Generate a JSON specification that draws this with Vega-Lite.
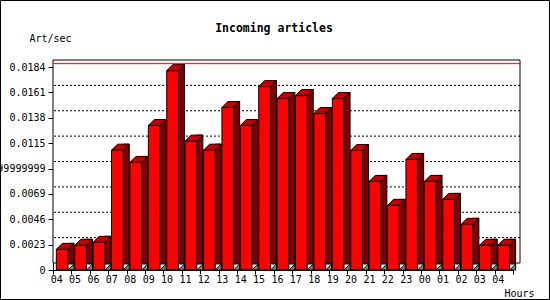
{
  "$schema": "https://vega.github.io/schema/vega-lite/v6.json",
  "autosize": {"type": "none"},
  "padding": {"left": 53, "top": 67, "right": 37, "bottom": 30},
  "width": 460,
  "height": 203,
  "background": "white",
  "config": {
    "view": {"stroke": null},
    "axis": {"labelOverlap": false, "labelBound": false, "labelFlush": false},
    "axisY": {"labelOverlap": false},
    "axisQuantitative": {"labelOverlap": false}
  },
  "title": {
    "text": "Incoming articles",
    "font": "DejaVu Sans Mono",
    "fontSize": 11.5,
    "fontWeight": "bold",
    "color": "black",
    "anchor": "middle",
    "frame": "group",
    "dx": -9,
    "offset": -34
  },
  "datasets": {
    "rates": [
      {"slot": "04a", "rate": 0.00187},
      {"slot": "05", "rate": 0.00224},
      {"slot": "06", "rate": 0.00251},
      {"slot": "07", "rate": 0.01086},
      {"slot": "08", "rate": 0.00975},
      {"slot": "09", "rate": 0.01310},
      {"slot": "10", "rate": 0.01807},
      {"slot": "11", "rate": 0.01168},
      {"slot": "12", "rate": 0.01086},
      {"slot": "13", "rate": 0.01473},
      {"slot": "14", "rate": 0.01310},
      {"slot": "15", "rate": 0.01663},
      {"slot": "16", "rate": 0.01554},
      {"slot": "17", "rate": 0.01581},
      {"slot": "18", "rate": 0.01418},
      {"slot": "19", "rate": 0.01554},
      {"slot": "20", "rate": 0.01083},
      {"slot": "21", "rate": 0.00803},
      {"slot": "22", "rate": 0.00586},
      {"slot": "23", "rate": 0.01002},
      {"slot": "00", "rate": 0.00803},
      {"slot": "01", "rate": 0.00640},
      {"slot": "02", "rate": 0.00414},
      {"slot": "03", "rate": 0.00224},
      {"slot": "04b", "rate": 0.00224}
    ],
    "grid": [
      {"rate": 0.0023}, {"rate": 0.0046}, {"rate": 0.0069}, {"rate": 0.0092},
      {"rate": 0.0115}, {"rate": 0.0138}, {"rate": 0.0161}
    ],
    "one": [{"rate": 0, "hi": 0.0184}]
  },
  "encoding": {
    "y": {
      "field": "rate", "type": "quantitative",
      "scale": {"domain": [0, 0.0184], "nice": false},
      "axis": {
        "values": [0, 0.0023, 0.0046, 0.0069, 0.0092, 0.0115, 0.0138, 0.0161, 0.0184],
        "labelExpr": "datum.value == 0.0092 ? '0.00919999999999999' : '' + datum.value",
        "labelFont": "DejaVu Sans Mono",
        "labelFontSize": 10,
        "labelColor": "black",
        "labelPadding": 3,
        "labelOverlap": false,
        "labelSeparation": 0,
        "tickSize": 5,
        "tickColor": "black",
        "domainColor": "black",
        "grid": false,
        "title": "Art/sec",
        "titleFont": "DejaVu Sans Mono",
        "titleFontSize": 10,
        "titleFontWeight": "normal",
        "titleColor": "black",
        "titleAngle": 0,
        "titleAlign": "left",
        "titleBaseline": "middle",
        "titleAnchor": null,
        "titleX": -24,
        "titleY": -29
      }
    }
  },
  "layer": [
    {
      "data": {"name": "one"},
      "mark": {"type": "rect", "fill": null, "fillOpacity": 0, "stroke": "black", "strokeWidth": 1,
               "xOffset": -52.5, "x2Offset": 36.5, "yOffset": 29.5, "y2Offset": -66.5},
      "encoding": {
        "x": {"value": 0},
        "x2": {"value": "width"},
        "y2": {"field": "hi"}
      }
    },
    {
      "data": {"name": "one"},
      "mark": {"type": "rect", "fill": "white", "stroke": "black", "strokeWidth": 1,
               "xOffset": 7, "x2Offset": 7, "yOffset": -7, "y2Offset": -7},
      "encoding": {
        "y2": {"field": "hi"}
      }
    },
    {
      "data": {"name": "grid"},
      "mark": {"type": "rule", "color": "black", "strokeWidth": 1, "strokeDash": [2, 2], "xOffset": 7, "x2Offset": 7, "yOffset": -7},
      "encoding": {}
    },
    {
      "data": {"name": "rates"},
      "transform": [{"joinaggregate": [{"op": "max", "field": "rate", "as": "top"}]}, {"filter": "datum.rate == datum.top"}],
      "mark": {"type": "rule", "color": "red", "strokeWidth": 1, "xOffset": 7, "x2Offset": 7, "yOffset": -7},
      "encoding": {}
    },
    {
      "data": {"name": "rates"},
      "mark": {"type": "bar", "fill": "#800000", "stroke": "black", "strokeWidth": 1, "width": 6, "xOffset": 8.85, "yOffset": -6, "y2Offset": 0},
      "encoding": {
        "x": {"field": "slot", "type": "nominal", "sort": null}
      }
    },
    {
      "data": {"name": "rates"},
      "mark": {"type": "point", "shape": "M5.85,0L11.85,-6L11.85,0Z", "size": 4, "filled": true, "fill": "#808080", "stroke": "black", "strokeWidth": 1, "opacity": 1, "yOffset": 0},
      "encoding": {
        "x": {"field": "slot", "type": "nominal", "sort": null},
        "y": {"datum": 0, "type": "quantitative"}
      }
    },
    {
      "data": {"name": "rates"},
      "mark": {"type": "bar", "fill": "#ff0000", "stroke": "black", "strokeWidth": 1, "width": {"band": 0.636}},
      "encoding": {
        "x": {
          "field": "slot", "type": "nominal", "sort": null,
          "scale": {"paddingInner": 0, "paddingOuter": 0},
          "axis": {
            "labelExpr": "substring(datum.label, 0, 2)",
            "labelAngle": 0,
            "labelFont": "DejaVu Sans Mono",
            "labelFontSize": 10,
            "labelColor": "black",
            "labelPadding": 5,
            "tickBand": "extent",
            "tickSize": 4,
            "tickColor": "black",
            "domainColor": "black",
            "title": "Hours",
            "titleFont": "DejaVu Sans Mono",
            "titleFontSize": 10,
            "titleFontWeight": "normal",
            "titleColor": "black",
            "titleAlign": "right",
            "titleBaseline": "middle",
            "titleAnchor": null,
            "titleX": 481,
            "titleY": 23
          }
        }
      }
    },
    {
      "data": {"name": "rates"},
      "mark": {"type": "point", "shape": "M-5.85,0L5.85,0L11.85,-6L0.15,-6Z", "size": 4, "filled": true, "fill": "#c00000", "stroke": "black", "strokeWidth": 1, "opacity": 1},
      "encoding": {
        "x": {"field": "slot", "type": "nominal", "sort": null}
      }
    }
  ]
}
